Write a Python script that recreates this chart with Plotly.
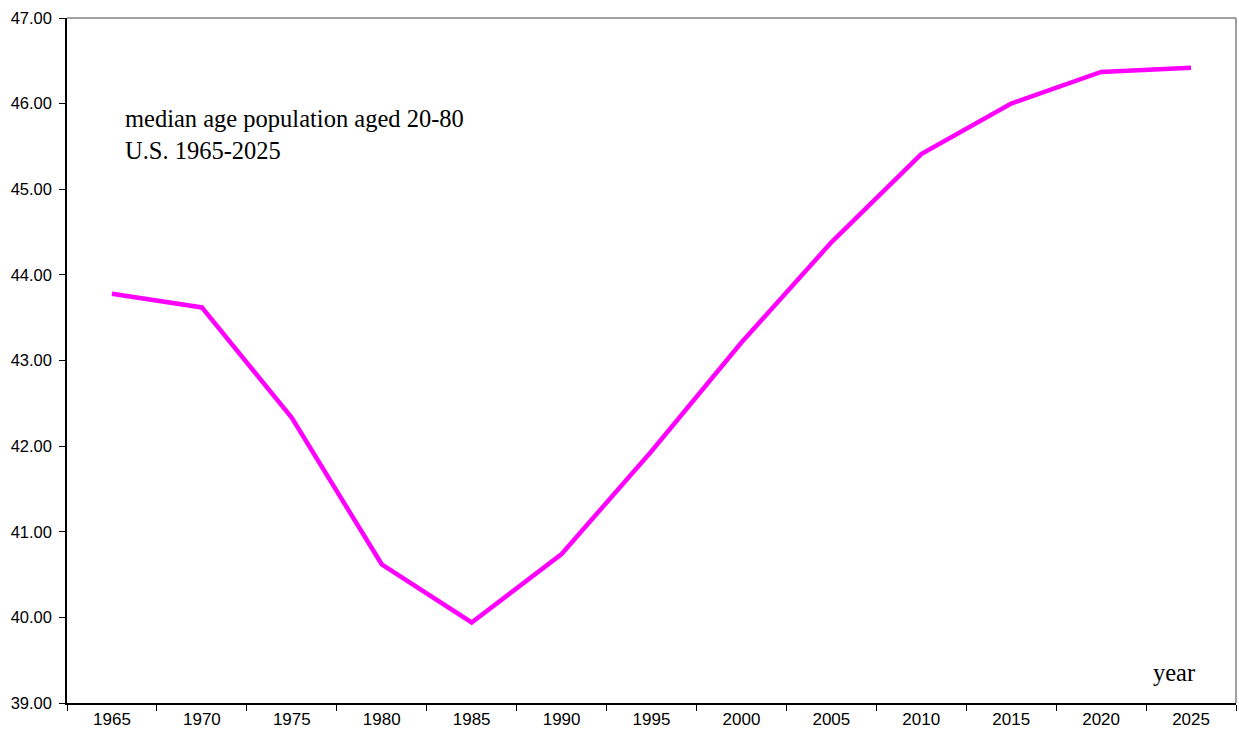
import plotly.graph_objects as go

years = ["1965", "1970", "1975", "1980", "1985", "1990", "1995",
         "2000", "2005", "2010", "2015", "2020", "2025"]
median_age = [43.78, 43.62, 42.33, 40.62, 39.94, 40.74, 41.94,
              43.21, 44.38, 45.41, 46.00, 46.37, 46.42]

MAGENTA = "#FF00FF"
SANS = "Liberation Sans, Arial, sans-serif"
SERIF = "Liberation Serif, Times New Roman, serif"

fig = go.Figure()
fig.add_trace(
    go.Scatter(
        x=years,
        y=median_age,
        mode="lines",
        line=dict(color=MAGENTA, width=4.5),
        showlegend=False,
    )
)

# gray frame on top and right, like the spreadsheet plot area
fig.add_shape(type="line", xref="paper", yref="paper", x0=0, x1=1, y0=1, y1=1,
              line=dict(color="#808080", width=1.5))
fig.add_shape(type="line", xref="paper", yref="paper", x0=1, x1=1, y0=0, y1=1,
              line=dict(color="#808080", width=1.5))

fig.add_annotation(
    text="median age population aged 20-80<br>U.S. 1965-2025",
    xref="paper", yref="paper", x=0.048, y=0.83,
    xanchor="left", yanchor="middle", align="left", showarrow=False,
    font=dict(family=SERIF, size=24.5, color="black"),
)
fig.add_annotation(
    text="year",
    xref="paper", yref="paper", x=0.967, y=0.045,
    xanchor="right", yanchor="middle", showarrow=False,
    font=dict(family=SERIF, size=24.5, color="black"),
)

fig.update_layout(
    width=1239,
    height=740,
    margin=dict(l=67, r=3, t=18, b=37),
    paper_bgcolor="white",
    plot_bgcolor="white",
    xaxis=dict(
        type="category",
        range=[-0.5, 12.5],
        tickson="boundaries",
        ticks="outside",
        ticklen=6,
        tickcolor="black",
        showline=True,
        linecolor="black",
        linewidth=1.5,
        showgrid=False,
        zeroline=False,
        automargin=False,
        tickfont=dict(family=SANS, size=17, color="black"),
    ),
    yaxis=dict(
        range=[39, 47],
        dtick=1,
        tickformat=".2f",
        ticks="outside",
        ticklen=6,
        tickcolor="black",
        showline=True,
        linecolor="black",
        linewidth=1.5,
        showgrid=False,
        zeroline=False,
        automargin=False,
        ticklabelstandoff=4,
        tickfont=dict(family=SANS, size=16.5, color="black"),
    ),
)

# drop the default page margin so the figure sits at the window origin
fig.write_html(
    "out.html",
    config={"displayModeBar": False},
    post_script="document.body.style.margin='0';document.body.style.overflow='hidden';",
)
